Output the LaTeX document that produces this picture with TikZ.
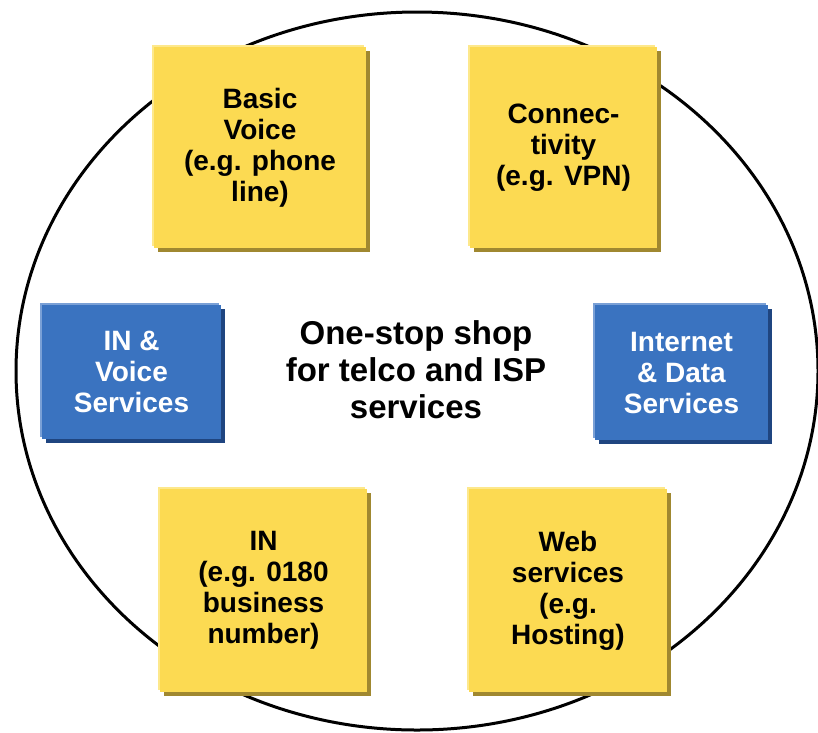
\documentclass[tikz,border=0pt]{standalone}
\usepackage{fontspec}
\setmainfont{Liberation Sans}
\usetikzlibrary{shadows}
\definecolor{ymain}{HTML}{FCDA52}
\definecolor{ylight}{HTML}{FDE88C}
\definecolor{yshade}{HTML}{A08830}
\definecolor{bmain}{HTML}{3A73C0}
\definecolor{blight}{HTML}{7AA0D6}
\definecolor{bshade}{HTML}{1F4580}
\tikzset{
  card/.style={rectangle, inner sep=0pt, align=center,
    font=\bfseries\fontsize{28}{31}\selectfont},
  yellowcard/.style={card, fill=ymain, text=black,
    general shadow={fill=yshade, shadow xshift=4pt, shadow yshift=-4pt},
    general shadow={fill=ylight, shadow xshift=-2pt, shadow yshift=2pt}},
  bluecard/.style={card, fill=bmain, text=white,
    general shadow={fill=bshade, shadow xshift=4pt, shadow yshift=-4pt},
    general shadow={fill=blight, shadow xshift=-2pt, shadow yshift=2pt}},
  hub/.style={align=center, inner sep=0pt,
    font=\bfseries\fontsize{33}{37}\selectfont}
}
\begin{document}
\begin{tikzpicture}[x=1pt,y=-1pt]
  \useasboundingbox (0,0) rectangle (818,732);
  % surrounding ring
  \begin{scope}
    \clip (0,0) rectangle (818,732);
    \draw[line width=3pt] (417,371) ellipse [x radius=401, y radius=359];
  \end{scope}
  % service cards
  \node[yellowcard, minimum width=212pt, minimum height=201pt] (voice) at (260,147.5)
    {Basic\\Voice\\(e.g. phone\\line)};
  \node[yellowcard, minimum width=187pt, minimum height=201pt] (conn) at (563.5,147.5)
    {Connec-\\tivity\\(e.g. VPN)};
  \node[yellowcard, minimum width=207pt, minimum height=203pt] (innum) at (263.5,590.5)
    {IN\\(e.g. 0180\\business\\number)};
  \node[yellowcard, minimum width=198pt, minimum height=203pt] (web) at (568,590.5)
    {Web\\services\\(e.g.\\Hosting)};
  \node[bluecard, minimum width=179pt, minimum height=134pt] (invoice) at (131.5,372)
    {IN \&\\Voice\\Services};
  \node[bluecard, minimum width=173pt, minimum height=135pt] (inet) at (681.5,372.5)
    {Internet\\\& Data\\Services};
  % central caption
  \node[hub] (shop) at (416,370) {One-stop shop\\for telco and ISP\\services};
\end{tikzpicture}
\end{document}
